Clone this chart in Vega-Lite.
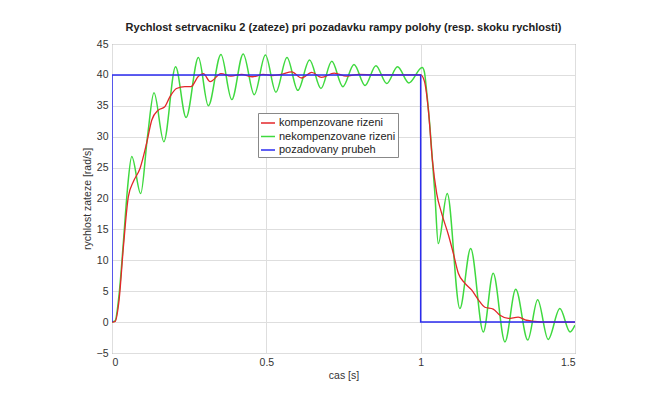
{
  "$schema": "https://vega.github.io/schema/vega-lite/v6.json",
  "autosize": {"type": "none"},
  "width": 463,
  "height": 309,
  "padding": {"left": 112, "top": 44, "right": 86, "bottom": 45},
  "background": "white",
  "title": {
    "text": "Rychlost setrvacniku 2 (zateze) pri pozadavku rampy polohy (resp. skoku rychlosti)",
    "font": "Liberation Sans",
    "fontSize": 11,
    "fontWeight": "bold",
    "color": "#222222",
    "anchor": "middle",
    "offset": 6
  },
  "config": {
    "view": {"stroke": "#777777", "strokeWidth": 1},
    "axis": {
      "labelFont": "Liberation Sans",
      "labelFontSize": 10.5,
      "labelColor": "#333333",
      "titleFont": "Liberation Sans",
      "titleFontSize": 10.5,
      "titleFontWeight": "normal",
      "titleColor": "#333333",
      "gridColor": "#dedede",
      "gridWidth": 1,
      "domain": false,
      "ticks": false,
      "labelPadding": 4
    },
    "legend": {
      "orient": "none",
      "legendX": 146,
      "legendY": 69,
      "title": null,
      "strokeColor": "#888888",
      "fillColor": "white",
      "padding": 2,
      "rowPadding": 0.5,
      "symbolType": "stroke",
      "symbolSize": 196,
      "symbolStrokeWidth": 1.5,
      "labelFont": "Liberation Sans",
      "labelFontSize": 11,
      "labelColor": "#222222",
      "labelOffset": 3,
      "labelLimit": 200
    }
  },
  "datasets": {
    "red": [
      {"t": 0, "v": 0}, {"t": 0.01, "v": 0.1}, {"t": 0.023, "v": 3.6}, {"t": 0.037, "v": 12.2},
      {"t": 0.053, "v": 20.3}, {"t": 0.069, "v": 22.7}, {"t": 0.091, "v": 24.9}, {"t": 0.112, "v": 28.9},
      {"t": 0.129, "v": 32.7}, {"t": 0.15, "v": 34.3}, {"t": 0.17, "v": 34.8}, {"t": 0.188, "v": 36.5},
      {"t": 0.209, "v": 37.8}, {"t": 0.236, "v": 38.1}, {"t": 0.256, "v": 38.1}, {"t": 0.28, "v": 39.8},
      {"t": 0.296, "v": 40.2}, {"t": 0.318, "v": 38.9}, {"t": 0.353, "v": 40.2}, {"t": 0.385, "v": 39.8},
      {"t": 0.42, "v": 40.1}, {"t": 0.455, "v": 39.7}, {"t": 0.49, "v": 40.1}, {"t": 0.52, "v": 39.9},
      {"t": 0.55, "v": 40.1}, {"t": 0.582, "v": 40.5}, {"t": 0.614, "v": 39.5}, {"t": 0.647, "v": 40.4},
      {"t": 0.679, "v": 39.6}, {"t": 0.72, "v": 40.3}, {"t": 0.76, "v": 39.8}, {"t": 0.8, "v": 40.1},
      {"t": 0.85, "v": 40}, {"t": 0.9, "v": 40}, {"t": 0.95, "v": 40}, {"t": 1.0, "v": 40},
      {"t": 1.012, "v": 39}, {"t": 1.025, "v": 34.3}, {"t": 1.038, "v": 26.2}, {"t": 1.052, "v": 20.8},
      {"t": 1.068, "v": 17.6}, {"t": 1.09, "v": 14.1}, {"t": 1.106, "v": 11.1}, {"t": 1.122, "v": 7.9},
      {"t": 1.143, "v": 6.3}, {"t": 1.165, "v": 5.2}, {"t": 1.187, "v": 3.6}, {"t": 1.208, "v": 2.4},
      {"t": 1.235, "v": 2.1}, {"t": 1.257, "v": 1.1}, {"t": 1.284, "v": 0.6}, {"t": 1.316, "v": 0.8},
      {"t": 1.343, "v": 0.3}, {"t": 1.37, "v": 0.1}, {"t": 1.4, "v": 0}, {"t": 1.45, "v": 0}, {"t": 1.5, "v": 0}
    ],
    "green": [
      {"t": 0, "v": 0}, {"t": 0.01, "v": 0.2}, {"t": 0.023, "v": 4.5}, {"t": 0.037, "v": 13},
      {"t": 0.05, "v": 21.5}, {"t": 0.064, "v": 26.8}, {"t": 0.093, "v": 20.8}, {"t": 0.115, "v": 30},
      {"t": 0.136, "v": 37.1}, {"t": 0.168, "v": 29.2}, {"t": 0.206, "v": 41.3}, {"t": 0.24, "v": 33.1},
      {"t": 0.28, "v": 42.8}, {"t": 0.312, "v": 35.0}, {"t": 0.353, "v": 43.3}, {"t": 0.388, "v": 36.0},
      {"t": 0.425, "v": 43.4}, {"t": 0.461, "v": 36.8}, {"t": 0.497, "v": 43.2}, {"t": 0.531, "v": 37.2},
      {"t": 0.567, "v": 42.8}, {"t": 0.602, "v": 37.5}, {"t": 0.64, "v": 42.4}, {"t": 0.677, "v": 37.8},
      {"t": 0.712, "v": 42.2}, {"t": 0.748, "v": 38.1}, {"t": 0.784, "v": 41.7}, {"t": 0.82, "v": 38.3},
      {"t": 0.855, "v": 41.5}, {"t": 0.89, "v": 38.6}, {"t": 0.925, "v": 41.3}, {"t": 0.962, "v": 38.7},
      {"t": 1.005, "v": 41.2}, {"t": 1.012, "v": 40.5}, {"t": 1.02, "v": 37}, {"t": 1.03, "v": 31.6},
      {"t": 1.046, "v": 20.8}, {"t": 1.057, "v": 12.7}, {"t": 1.086, "v": 20.8}, {"t": 1.127, "v": 2.2},
      {"t": 1.162, "v": 11.9}, {"t": 1.203, "v": -1.6}, {"t": 1.235, "v": 7.9}, {"t": 1.273, "v": -3.2},
      {"t": 1.308, "v": 5.3}, {"t": 1.347, "v": -2.9}, {"t": 1.379, "v": 3.6}, {"t": 1.413, "v": -2.8},
      {"t": 1.451, "v": 2.2}, {"t": 1.484, "v": -1.6}, {"t": 1.5, "v": -0.5}
    ],
    "blue": [
      {"i": 0, "t": 0, "v": 0}, {"i": 1, "t": 0, "v": 40}, {"i": 2, "t": 1, "v": 40},
      {"i": 3, "t": 1, "v": 0}, {"i": 4, "t": 1.5, "v": 0}
    ]
  },
  "encoding": {
    "x": {
      "field": "t", "type": "quantitative",
      "scale": {"domain": [0, 1.5], "nice": false, "zero": false},
      "axis": {"values": [0, 0.5, 1, 1.5], "format": "~g", "title": "cas [s]", "titlePadding": 3}
    },
    "y": {
      "field": "v", "type": "quantitative",
      "scale": {"domain": [-5, 45], "nice": false, "zero": false},
      "axis": {"values": [-5, 0, 5, 10, 15, 20, 25, 30, 35, 40, 45], "title": "rychlost zateze [rad/s]", "titlePadding": 4}
    },
    "color": {
      "field": "s", "type": "nominal",
      "scale": {
        "domain": ["kompenzovane rizeni", "nekompenzovane rizeni", "pozadovany prubeh"],
        "range": ["#e3262a", "#3fd93f", "#2b2bf0"]
      }
    }
  },
  "layer": [
    {
      "data": {"name": "green"},
      "transform": [{"calculate": "'nekompenzovane rizeni'", "as": "s"}],
      "mark": {"type": "line", "interpolate": "monotone", "strokeWidth": 1.5, "clip": true}
    },
    {
      "data": {"name": "red"},
      "transform": [{"calculate": "'kompenzovane rizeni'", "as": "s"}],
      "mark": {"type": "line", "interpolate": "monotone", "strokeWidth": 1.3, "clip": true}
    },
    {
      "data": {"name": "blue"},
      "transform": [{"calculate": "'pozadovany prubeh'", "as": "s"}],
      "mark": {"type": "line", "strokeWidth": 1.5, "clip": true},
      "encoding": {"order": {"field": "i", "type": "quantitative"}}
    }
  ]
}
